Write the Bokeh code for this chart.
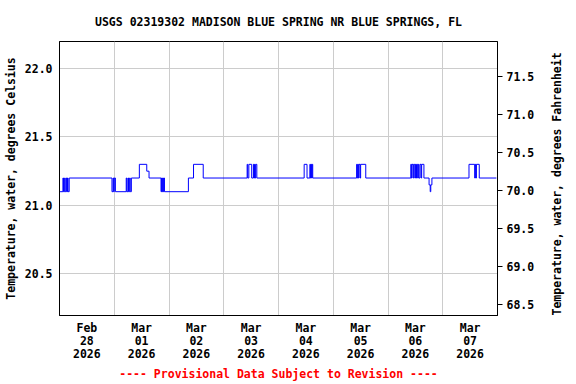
import math
from bokeh.plotting import figure
from bokeh.models import Range1d, LinearAxis, FixedTicker, PrintfTickFormatter
from bokeh.embed import file_html
from bokeh.resources import INLINE

# Hours since 2026-02-28 00:00 where the recorded value changes (step data)
times = [0.25, 1.5, 1.75, 2.25, 2.5, 3.0, 3.25, 3.5, 3.75, 4.25,
         23.0, 23.5, 23.75, 24.0, 24.5,
         29.25, 29.5, 30.0, 30.25, 30.75, 31.0, 31.5,
         35.0, 38.25, 39.25,
         44.5, 44.75, 45.0, 45.25, 45.5, 45.75, 46.0,
         56.5, 58.75, 63.0,
         82.25, 82.5, 83.0, 84.25, 85.0, 85.25, 85.5, 85.75, 86.0, 86.5,
         107.25, 108.5, 109.75, 110.0, 110.25, 110.5, 110.75, 111.0,
         130.25, 130.5, 130.75, 131.0, 131.25, 131.75, 132.0, 134.25,
         154.0, 154.25, 154.5, 155.0, 155.25, 155.75, 156.0, 156.25, 156.5,
         157.0, 157.25, 157.5, 158.0, 158.5, 158.75, 159.75,
         162.0, 162.5, 162.75, 163.25,
         179.5, 182.0, 182.25, 182.5, 182.75, 184.0, 191.5]
temps_c = [21.1, 21.2, 21.1, 21.2, 21.1, 21.2, 21.1, 21.2, 21.1, 21.2,
           21.1, 21.2, 21.1, 21.2, 21.1,
           21.2, 21.1, 21.2, 21.1, 21.2, 21.1, 21.2,
           21.3, 21.25, 21.2,
           21.1, 21.2, 21.1, 21.2, 21.1, 21.2, 21.1,
           21.2, 21.3, 21.2,
           21.3, 21.2, 21.3, 21.2, 21.3, 21.2, 21.3, 21.2, 21.3, 21.2,
           21.3, 21.2, 21.3, 21.2, 21.3, 21.2, 21.3, 21.2,
           21.3, 21.2, 21.3, 21.2, 21.3, 21.2, 21.3, 21.2,
           21.3, 21.2, 21.3, 21.2, 21.3, 21.2, 21.3, 21.2, 21.3,
           21.2, 21.3, 21.2, 21.3, 21.2, 21.3, 21.2,
           21.15, 21.1, 21.15, 21.2,
           21.3, 21.2, 21.3, 21.2, 21.3, 21.2, 21.2]

day_label_hours = [12, 36, 60, 84, 108, 132, 156, 180]
day_labels = ["Feb\n28\n2026", "Mar\n01\n2026", "Mar\n02\n2026", "Mar\n03\n2026",
              "Mar\n04\n2026", "Mar\n05\n2026", "Mar\n06\n2026", "Mar\n07\n2026"]
midnight_hours = [24, 48, 72, 96, 120, 144, 168]
c_ticks = [20.5, 21.0, 21.5, 22.0]
f_ticks = [68.5, 69.0, 69.5, 70.0, 70.5, 71.0, 71.5]

C_MIN, C_MAX = 20.195, 22.198
X_MAX = 192
FONT = "DejaVu Sans Mono"
FS = "11.5px"


def style_text(ax):
    ax.major_label_text_font = FONT
    ax.major_label_text_font_size = FS
    ax.major_label_text_font_style = "bold"
    ax.major_label_text_color = "black"
    ax.axis_label_text_font = FONT
    ax.axis_label_text_font_size = FS
    ax.axis_label_text_font_style = "bold"
    ax.axis_label_text_color = "black"
    ax.minor_tick_out = 0
    ax.minor_tick_in = 0
    ax.major_tick_in = 0
    ax.axis_line_color = "black"


p = figure(width=576, height=384, x_range=Range1d(0, X_MAX),
           y_range=Range1d(C_MIN, C_MAX), output_backend="svg",
           toolbar_location=None, min_border_left=58, min_border_right=79,
           min_border_top=40, min_border_bottom=68)

p.title.text = "USGS 02319302 MADISON BLUE SPRING NR BLUE SPRINGS, FL"
p.title.text_font = FONT
p.title.text_font_size = FS
p.title.text_font_style = "bold"
p.title.text_color = "black"
p.title.align = "center"
p.title.standoff = 25

p.outline_line_color = "black"
p.outline_line_width = 1
p.background_fill_color = "white"
p.border_fill_color = "white"

# x axis
xa = p.xaxis[0]
style_text(xa)
xa.ticker = FixedTicker(ticks=day_label_hours)
xa.major_label_overrides = {h: s for h, s in zip(day_label_hours, day_labels)}
xa.major_tick_out = 0
xa.major_label_text_line_height = 0.95
xa.major_label_standoff = 5
xa.axis_label = "---- Provisional Data Subject to Revision ----"
xa.axis_label_text_color = "red"
xa.axis_label_standoff = 3

# left axis (Celsius)
ya = p.yaxis[0]
style_text(ya)
ya.ticker = FixedTicker(ticks=c_ticks)
ya.formatter = PrintfTickFormatter(format="%.1f")
ya.major_tick_out = 0
ya.major_label_standoff = 7
ya.axis_label = "Temperature, water, degrees Celsius"
ya.axis_label_standoff = 4

# right axis (Fahrenheit)
p.extra_y_ranges = {"f": Range1d(C_MIN * 1.8 + 32, C_MAX * 1.8 + 32)}
ra = LinearAxis(y_range_name="f", ticker=FixedTicker(ticks=f_ticks),
                formatter=PrintfTickFormatter(format="%.1f"))
style_text(ra)
ra.major_tick_out = 5
ra.major_label_standoff = 4
ra.axis_label = "Temperature, water, degrees Fahrenheit"
ra.axis_label_standoff = 20
ra.axis_label_orientation = math.pi / 2   # read bottom-to-top like the left one
ra.axis_label_align = "start"
p.add_layout(ra, "right")

# grids
p.xgrid[0].ticker = FixedTicker(ticks=midnight_hours)
p.xgrid[0].grid_line_color = "#cccccc"
p.ygrid[0].grid_line_color = "#cccccc"

p.step(times, temps_c, mode="after", line_color="#0000ff", line_width=1)

open("out.html", "w").write(file_html(p, INLINE))
